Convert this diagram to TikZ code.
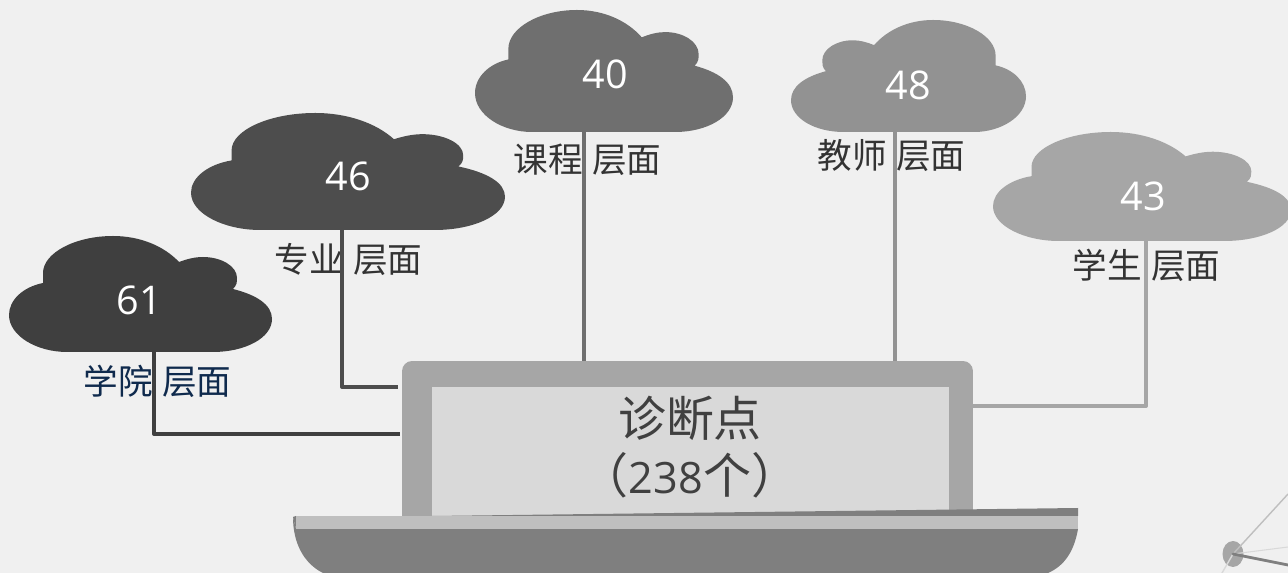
\documentclass[tikz,border=0pt]{standalone}
\usepackage{fontspec}
\usetikzlibrary{shapes.geometric}
\setmainfont[WordSpace=1.2]{Noto Sans CJK SC}
\newfontfamily\digitfont{Open Sans}
\definecolor{paper}{HTML}{F0F0F0}
\definecolor{cloudA}{HTML}{3F3F3F}
\definecolor{cloudB}{HTML}{4D4D4D}
\definecolor{cloudC}{HTML}{6F6F6F}
\definecolor{cloudD}{HTML}{929292}
\definecolor{cloudE}{HTML}{A6A6A6}
\definecolor{labelink}{HTML}{333333}
\definecolor{navyink}{HTML}{0F2A4D}
\definecolor{bodyink}{HTML}{404040}
\definecolor{basedark}{HTML}{7F7F7F}
\definecolor{baselight}{HTML}{BFBFBF}
\definecolor{panelfill}{HTML}{D9D9D9}
\newcommand\cloudwidth{263}
\newcommand\cloudheight{116}
% x y width height colour (negative width mirrors the cloud)
\newcommand\cloudshape[5]{
  \begin{scope}[shift={(#1, #2)}, xscale=#3/\cloudwidth, yscale=#4/\cloudheight]
    \fill[#5] (34, 47) .. controls (14, 51) and (0, 64) .. (0, 79)
       .. controls (0, 100) and (28, 116) .. (58, 116)
       -- (204, 116)
       .. controls (236, 116) and (263, 102) .. (263, 83)
       .. controls (263, 69) and (248, 59) .. (224, 53)
       .. controls (228, 49) and (228, 46) .. (228, 42)
       .. controls (228, 30) and (212, 21) .. (194, 21)
       .. controls (186, 21) and (178, 23) .. (170, 26)
       .. controls (155, 10) and (131, 0) .. (104, 0)
       .. controls (66, 0) and (34, 17) .. (34, 37)
       -- cycle ;
  \end{scope}
}
\tikzset{
  count/.style={text=white, font=\digitfont\fontsize{22.5}{26}\selectfont},
  layer/.style={text=labelink, font=\fontsize{19.7}{23}\selectfont},
  wire/.style={line width=2.3pt, line join=round},
  spoke/.style={line cap=round},
}

\begin{document}
\begin{tikzpicture}[x=0.02cm, y=-0.02cm]
    \fill[paper] (0, 0) rectangle (1288, 573) ;
    \useasboundingbox (0, 0) rectangle (1288, 573) ;

    \node (hub) [ellipse, fill=cloudE, inner sep=0, minimum width=0.42cm, minimum height=0.52cm] at (1233, 554) {} ;
    \coordinate (spokeup) at (1288, 494) ;
    \coordinate (spokeright) at (1288, 547) ;
    \coordinate (spokedown) at (1288, 565) ;
    \coordinate (spokeleft) at (1222, 573) ;
    \draw[spoke, baselight, line width=0.8pt] (hub.center) -- (spokeup) ;
    \draw[spoke, panelfill, line width=0.6pt] (hub.center) -- (spokeright) ;
    \draw[spoke, panelfill, line width=0.8pt] (hub.center) -- (spokeleft) ;
    \draw[spoke, basedark, line width=1.6pt] (hub.center) -- (spokedown) ;

    \cloudshape{9}{236}{263}{116}{cloudA}
    \cloudshape{191}{113}{314}{117}{cloudB}
    \cloudshape{475}{10}{258}{122}{cloudC}
    \cloudshape{1026}{20}{-235}{112}{cloudD}
    \cloudshape{993}{132}{298}{109}{cloudE}

    \node (countA) [count] at (139, 300) {61} ;
    \node (countB) [count] at (348, 176) {46} ;
    \node (countC) [count] at (605, 74) {40} ;
    \node (countD) [count] at (908, 85) {48} ;
    \node (countE) [count] at (1143, 196) {43} ;

    \node (layerA) [layer, text=navyink] at (157.5, 381) {学院 层面} ;
    \node (layerB) [layer] at (348.5, 259) {专业 层面} ;
    \node (layerC) [layer] at (587.5, 160) {课程 层面} ;
    \node (layerD) [layer] at (891.5, 156) {教师 层面} ;
    \node (layerE) [layer] at (1146.5, 265) {学生 层面} ;

    \node (screen) [fill=cloudE, rounded corners=0.2cm, inner sep=0,
       minimum width=11.42cm, minimum height=3.38cm] at (687.5, 445.5) {} ;
    \node (panel) [fill=panelfill, inner sep=0,
       minimum width=10.34cm, minimum height=2.58cm] at (690.5, 451.5) {} ;
    \node (caption) [text=bodyink, align=center, font=\fontsize{27.3}{32.5}\selectfont] at (690, 447)
       {诊断点\\（{\digitfont\fontsize{24.6}{32.5}\selectfont 238}个）} ;

    \coordinate (stemA) at (154, 352) ;
    \coordinate (stemB) at (342, 230) ;
    \coordinate (stemC) at (584, 132) ;
    \coordinate (stemD) at (895, 131) ;
    \coordinate (stemE) at (1146, 241) ;
    \coordinate (portA) at (400, 434) ;
    \coordinate (portB) at (398, 387) ;
    \coordinate (portE) at (973, 406) ;
    \draw[wire, cloudA] (stemA) |- (portA) ;
    \draw[wire, cloudB] (stemB) |- (portB) ;
    \draw[wire, cloudC] (stemC) -- (stemC |- screen.north) ;
    \draw[wire, cloudD] (stemD) -- (stemD |- screen.north) ;
    \draw[wire, cloudE] (stemE) |- (portE) ;

    % laptop base
    \fill[basedark] (293, 517) -- (296, 529) -- (1078, 529)
       .. controls (1074, 552) and (1064, 566) .. (1048, 573)
       -- (323, 573)
       .. controls (303, 563) and (293, 542) .. (293, 517) -- cycle ;
    \fill[basedark] (293, 517) -- (296, 516) -- (296, 529) -- cycle ;
    \fill[baselight] (296, 516) rectangle (1078, 529) ;
    \fill[basedark] (432, 516) -- (1078, 508) -- (1078, 516) -- cycle ;
\end{tikzpicture}
\end{document}
